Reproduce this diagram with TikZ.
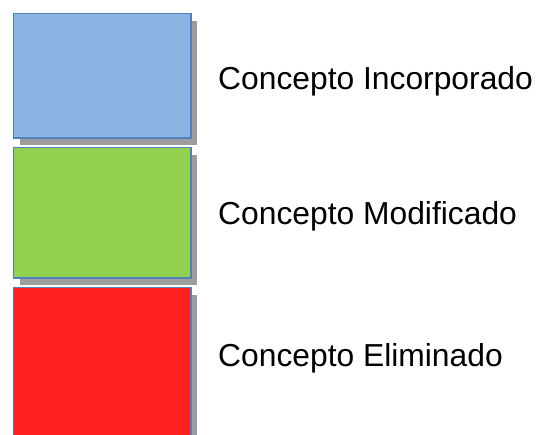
\documentclass[tikz,border=0pt]{standalone}
\usepackage{fontspec}
\setmainfont{Liberation Sans}
\usepackage{tikz}
\usetikzlibrary{shadows}
\definecolor{cpblue}{HTML}{8DB3E2}
\definecolor{cpgreen}{HTML}{92D050}
\definecolor{cpred}{HTML}{FF2020}
\definecolor{cpedge}{HTML}{4F81BD}
\definecolor{cpshadow}{HTML}{9C9C9C}

\begin{document}
\begin{tikzpicture}[x=1pt,y=-1pt,
    concepto/.style={rectangle, draw=cpedge, line width=1.5pt, anchor=north west,
                     minimum width=177.5pt, inner sep=0pt,
                     general shadow={fill=cpshadow, shadow xshift=6pt, shadow yshift=-7pt}},
    leyenda/.style={anchor=base west, inner sep=0pt,
                    font=\fontsize{31.8}{36}\selectfont}]

  \clip (0,0) rectangle (537,434);
  \fill[white] (0,0) rectangle (537,434);

  % -- colour boxes, stacked; the last one runs off the bottom edge
  \foreach \y/\h/\c/\n in {12.75/124.5/cpblue/inc, 146.75/130.5/cpgreen/mod, 286.75/160/cpred/eli}{
    \node[concepto, fill=\c, minimum height=\h pt] (box-\n) at (12.75,\y) {};}

  % -- legend texts --
  \node[leyenda] (txt-inc) at (218,89) {Concepto Incorporado};
  \node[leyenda] (txt-mod) at (218,224) {Concepto Modificado};
  \node[leyenda] (txt-eli) at (218,366) {Concepto Eliminado};
\end{tikzpicture}
\end{document}
